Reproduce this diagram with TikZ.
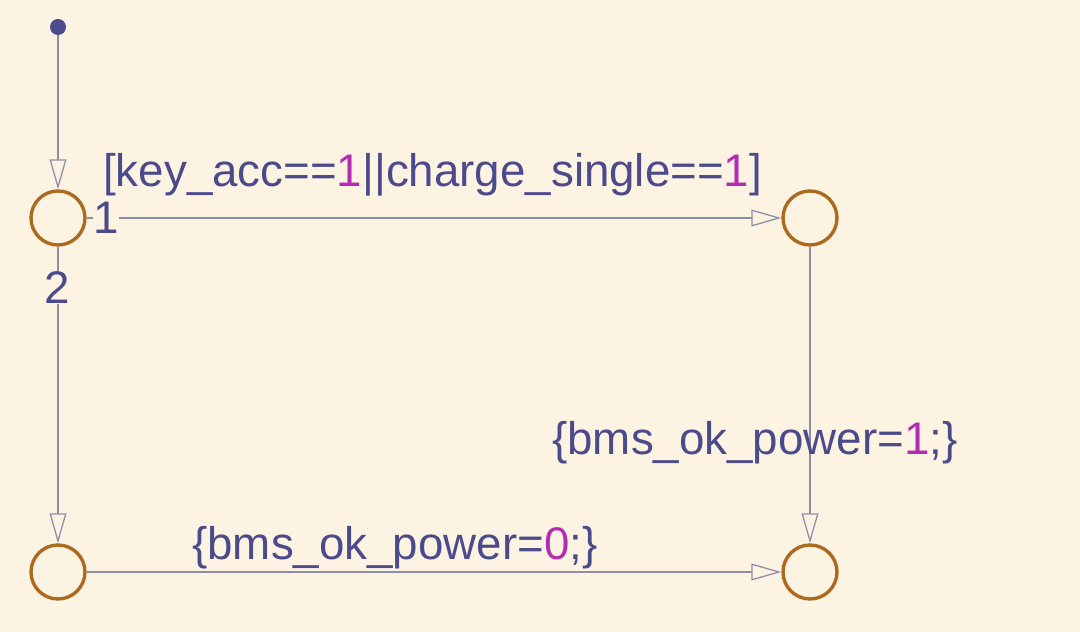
\documentclass[tikz,border=0pt]{standalone}
\usepackage{fontspec}
\setmainfont{Liberation Sans}
\usepackage{tikz}
\usetikzlibrary{arrows.meta,positioning,calc}
\definecolor{paper}{HTML}{FDF3E3}
\definecolor{junc}{HTML}{AC6A1F}
\definecolor{wire}{HTML}{8E8EA6}
\definecolor{lbl}{HTML}{4B4B8C}
\definecolor{num}{HTML}{B22DB2}
\tikzset{
  junction/.style={circle,draw=junc,line width=2.4pt,minimum size=1.35cm,inner sep=0pt},
  trans/.style={draw=wire,line width=0.9pt,-{Triangle[open,length=0.75cm,width=0.42cm]}},
  lab/.style={text=lbl,inner sep=0pt,font=\fontsize{32.5}{39}\selectfont},
}
\newcommand{\nm}[1]{\textcolor{num}{#1}}

\begin{document}
\begin{tikzpicture}
\fill[paper] (0,0) rectangle (27,15.8);
\useasboundingbox (0,0) rectangle (27,15.8);
\node[circle,fill=lbl,inner sep=0pt,minimum size=0.4cm] (init) at (1.45,15.125) {};
\node[junction] (J1) at (1.45,10.35) {};
\node[junction] (J2) at (20.25,10.35) {};
\node[junction] (J3) at (1.45,1.5) {};
\node[junction] (J4) at (20.25,1.5) {};
\draw[trans] (init) -- (J1);
\draw[trans] (J1) -- (J2);
\draw[trans] (J2) -- (J4);
\draw[trans] (J1) -- (J3);
\draw[trans] (J3) -- (J4);
\node[lab,fill=paper] (o1) at (2.65,10.35) {1};
\node[lab,fill=paper] (o2) at (1.425,8.6) {2};
\node[lab,anchor=base west] (g1) at (2.575,11.125) {[key\_acc==\nm{1}||charge\_single==\nm{1}]};
\node[lab,anchor=base west] (a1) at (13.8,4.425) {\{bms\_ok\_power=\nm{1};\}};
\node[lab,anchor=base west] (a0) at (4.8,1.8) {\{bms\_ok\_power=\nm{0};\}};
\end{tikzpicture}
\end{document}
